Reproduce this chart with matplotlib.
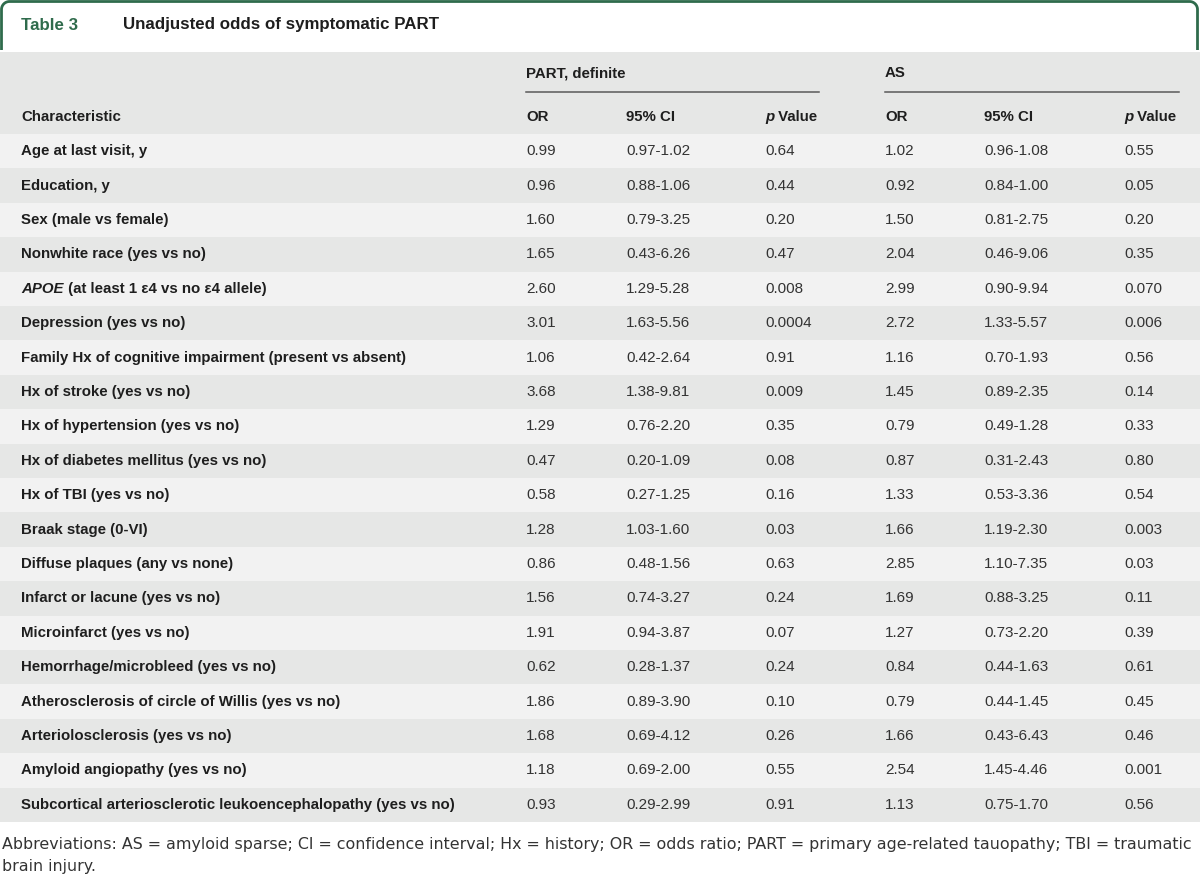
import numpy as np
import matplotlib.pyplot as plt
from matplotlib.patches import Rectangle

plt.rcParams['font.family'] = ['Liberation Sans', 'DejaVu Sans']

# DATA
characteristics = [
    "Age at last visit, y",
    "Education, y",
    "Sex (male vs female)",
    "Nonwhite race (yes vs no)",
    "APOE",
    "Depression (yes vs no)",
    "Family Hx of cognitive impairment (present vs absent)",
    "Hx of stroke (yes vs no)",
    "Hx of hypertension (yes vs no)",
    "Hx of diabetes mellitus (yes vs no)",
    "Hx of TBI (yes vs no)",
    "Braak stage (0-VI)",
    "Diffuse plaques (any vs none)",
    "Infarct or lacune (yes vs no)",
    "Microinfarct (yes vs no)",
    "Hemorrhage/microbleed (yes vs no)",
    "Atherosclerosis of circle of Willis (yes vs no)",
    "Arteriolosclerosis (yes vs no)",
    "Amyloid angiopathy (yes vs no)",
    "Subcortical arteriosclerotic leukoencephalopathy (yes vs no)",
]
apoeSuffix = " (at least 1 \u03b54 vs no \u03b54 allele)"

partOR = ["0.99", "0.96", "1.60", "1.65", "2.60", "3.01", "1.06", "3.68", "1.29", "0.47",
          "0.58", "1.28", "0.86", "1.56", "1.91", "0.62", "1.86", "1.68", "1.18", "0.93"]
partCI = ["0.97-1.02", "0.88-1.06", "0.79-3.25", "0.43-6.26", "1.29-5.28", "1.63-5.56",
          "0.42-2.64", "1.38-9.81", "0.76-2.20", "0.20-1.09", "0.27-1.25", "1.03-1.60",
          "0.48-1.56", "0.74-3.27", "0.94-3.87", "0.28-1.37", "0.89-3.90", "0.69-4.12",
          "0.69-2.00", "0.29-2.99"]
partP = ["0.64", "0.44", "0.20", "0.47", "0.008", "0.0004", "0.91", "0.009", "0.35", "0.08",
         "0.16", "0.03", "0.63", "0.24", "0.07", "0.24", "0.10", "0.26", "0.55", "0.91"]

asOR = ["1.02", "0.92", "1.50", "2.04", "2.99", "2.72", "1.16", "1.45", "0.79", "0.87",
        "1.33", "1.66", "2.85", "1.69", "1.27", "0.84", "0.79", "1.66", "2.54", "1.13"]
asCI = ["0.96-1.08", "0.84-1.00", "0.81-2.75", "0.46-9.06", "0.90-9.94", "1.33-5.57",
        "0.70-1.93", "0.89-2.35", "0.49-1.28", "0.31-2.43", "0.53-3.36", "1.19-2.30",
        "1.10-7.35", "0.88-3.25", "0.73-2.20", "0.44-1.63", "0.44-1.45", "0.43-6.43",
        "1.45-4.46", "0.75-1.70"]
asP = ["0.55", "0.05", "0.20", "0.35", "0.070", "0.006", "0.56", "0.14", "0.33", "0.80",
       "0.54", "0.003", "0.03", "0.11", "0.39", "0.61", "0.45", "0.46", "0.001", "0.56"]

footnote = ["Abbreviations: AS = amyloid sparse; CI = confidence interval; Hx = history; "
            "OR = odds ratio; PART = primary age-related tauopathy; TBI = traumatic",
            "brain injury."]

# LAYOUT (pixel units)
W, H = 1200, 880
headTop = 52
rowTop = 134
rowH = 34.4
green = '#2f6b4c'
dark = '#1e1e1e'
valColor = '#333333'
bandDark = '#e6e7e6'
bandLight = '#f2f2f2'
labelSize = 10.8
valSize = 11

colX = [526, 626, 765, 885, 984, 1124]

fig = plt.figure(figsize=(12, 8.8), dpi=100)
ax = fig.add_axes([0, 0, 1, 1])
ax.set_xlim(0, W)
ax.set_ylim(H, 0)
ax.axis('off')

# title tab border with rounded corners
r = 8
th = np.linspace(np.pi, 1.5 * np.pi, 20)
leftArc = np.c_[1.5 + r + r * np.cos(th), 1.5 + r + r * np.sin(th)]
th2 = np.linspace(1.5 * np.pi, 2 * np.pi, 20)
rightArc = np.c_[1197.5 - r + r * np.cos(th2), 1.5 + r + r * np.sin(th2)]
border = np.vstack([[1.5, 50], leftArc, rightArc, [1197.5, 50]])
ax.plot(border[:, 0], border[:, 1], color=green, lw=2, solid_capstyle='butt')

ax.text(21, 25, "Table 3", color=green, fontsize=12.2, weight='bold', va='center')
ax.text(123, 25, "Unadjusted odds of symptomatic PART", color=dark, fontsize=12.2,
        weight='bold', va='center')

# header band
ax.add_patch(Rectangle((0, headTop), W, rowTop - headTop, color=bandDark, lw=0))
ax.text(526, 73, "PART, definite", fontsize=labelSize, weight='bold', color=dark, va='center')
ax.text(885, 73, "AS", fontsize=labelSize, weight='bold', color=dark, va='center')
ax.plot([526, 819], [92, 92], color='#5a5a5a', lw=1.1)
ax.plot([885, 1179], [92, 92], color='#5a5a5a', lw=1.1)

ax.text(21, 117, "Characteristic", fontsize=labelSize, weight='bold', color=dark, va='center')
for k, x in enumerate(colX):
    if k % 3 == 0:
        ax.text(x, 117, "OR", fontsize=labelSize, weight='bold', color=dark, va='center')
    elif k % 3 == 1:
        ax.text(x, 117, "95% CI", fontsize=labelSize, weight='bold', color=dark, va='center')
    else:
        pt = ax.text(x, 117, "p", fontsize=labelSize, style='italic', weight='bold',
                     color=dark, va='center')
        ax.annotate(" Value", xy=(1, 0), xycoords=pt, va='bottom', ha='left',
                    fontsize=labelSize, weight='bold', color=dark)

# body rows
columns = [partOR, partCI, partP, asOR, asCI, asP]
for i, name in enumerate(characteristics):
    y0 = rowTop + i * rowH
    yc = y0 + rowH / 2
    ax.add_patch(Rectangle((0, y0), W, rowH, color=bandLight if i % 2 == 0 else bandDark, lw=0))
    if name == "APOE":
        t = ax.text(21, yc, name, fontsize=labelSize, weight='bold', style='italic',
                    color=dark, va='center')
        ax.annotate(apoeSuffix, xy=(1, 0), xycoords=t, va='bottom', ha='left',
                    fontsize=labelSize, weight='bold', color=dark)
    else:
        ax.text(21, yc, name, fontsize=labelSize, weight='bold', color=dark, va='center')
    for x, col in zip(colX, columns):
        ax.text(x, yc, col[i], fontsize=valSize, color=valColor, va='center')

# footnote
for j, line in enumerate(footnote):
    ax.text(2, 844 + j * 22, line, fontsize=11.45, color=valColor, va='center',
            family='DejaVu Sans')

fig.savefig("out.png", dpi=100)
